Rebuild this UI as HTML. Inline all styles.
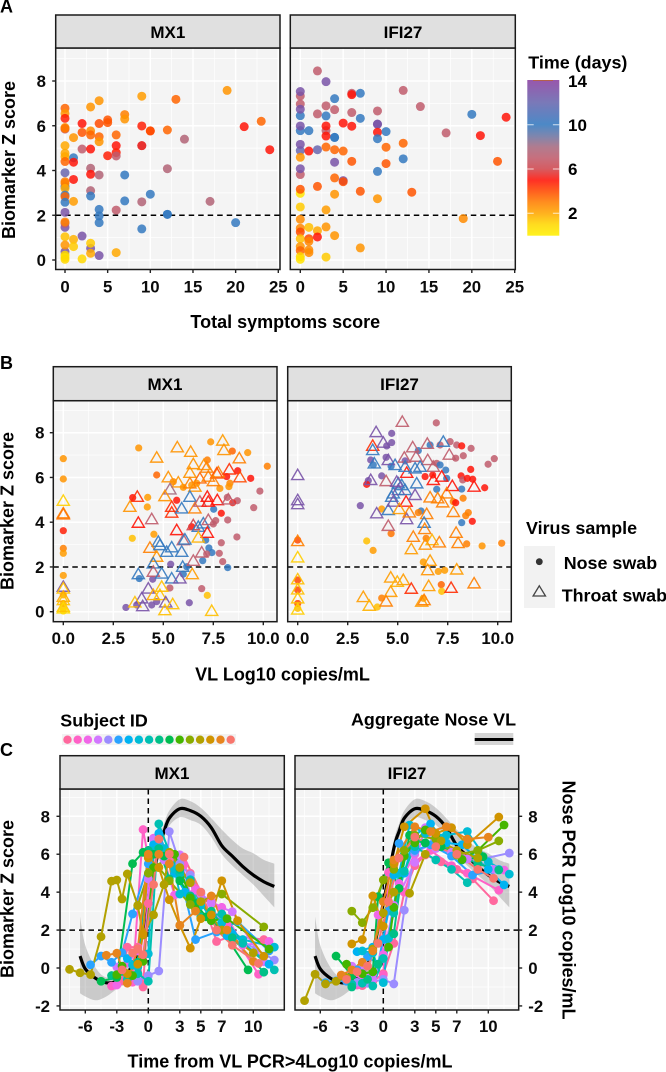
<!DOCTYPE html>
<html lang="en">
<head>
<meta charset="utf-8">
<title>Biomarker Z score charts</title>
<style>
html,body{margin:0;padding:0;background:#fff;}
svg{display:block;font-family:"Liberation Sans",Arial,sans-serif;font-weight:bold;}
text{fill:#000;}
.tick{font-size:16.8px;fill:#0b0b0b;}
.title{font-size:18px;}
.strip-label{font-size:17px;text-anchor:middle;}
.strip{fill:#e0e0e0;stroke:#1a1a1a;stroke-width:1.5;}
.legend-title{font-size:17.9px;}
.legend-label{font-size:17.9px;}
.legend-tick{font-size:17px;}
</style>
</head>
<body>
<svg id="chart" xmlns="http://www.w3.org/2000/svg" width="666" height="1072" viewBox="0 0 666 1072">
  <defs>
    <linearGradient id="time-gradient" x1="0" y1="1" x2="0" y2="0"></linearGradient>
  </defs>
  <g id="plot-layer"></g>

  <text x="0" y="12.5" font-size="18">A</text>
  <text x="0" y="369" font-size="18">B</text>
  <text x="0" y="756" font-size="18">C</text>

  <rect class="strip" x="55.7" y="15" width="224.3" height="33"/>
  <text class="strip-label" x="167.8" y="38">MX1</text>
  <rect class="strip" x="290.3" y="15" width="225" height="33"/>
  <text class="strip-label" x="403" y="38">IFI27</text>

  <rect class="strip" x="53.3" y="366.7" width="223.7" height="34"/>
  <text class="strip-label" x="165" y="390">MX1</text>
  <rect class="strip" x="287.7" y="366.7" width="223.6" height="34"/>
  <text class="strip-label" x="399.5" y="390">IFI27</text>

  <rect class="strip" x="60" y="755.7" width="224.3" height="33.3"/>
  <text class="strip-label" x="172" y="779">MX1</text>
  <rect class="strip" x="295" y="755.7" width="223.7" height="33.3"/>
  <text class="strip-label" x="407" y="779">IFI27</text>

  <text class="title" transform="translate(15 160) rotate(-90)" text-anchor="middle">Biomarker Z score</text>
  <text class="title" transform="translate(13.5 511) rotate(-90)" text-anchor="middle">Biomarker Z score</text>
  <text class="title" transform="translate(13.5 899) rotate(-90)" text-anchor="middle">Biomarker Z score</text>
  <text class="title" transform="translate(562.5 900) rotate(90)" text-anchor="middle">Nose PCR Log10 copies/mL</text>

  <text class="title" x="285.3" y="328" text-anchor="middle">Total symptoms score</text>
  <text class="title" x="282.5" y="680.5" text-anchor="middle">VL Log10 copies/mL</text>
  <text class="title" x="290" y="1067.5" text-anchor="middle">Time from VL PCR&gt;4Log10 copies/mL</text>

  <g>
    <text class="legend-title" x="528.3" y="68.5">Time (days)</text>
    <rect x="527.3" y="80" width="32" height="155.7" fill="url(#time-gradient)" opacity="0.88"/>
    <rect x="533" y="80" width="20" height="1" fill="#b4604c"/>
    <path d="M527.3 124.7h6.4M552.9 124.7h6.4M527.3 169h6.4M552.9 169h6.4M527.3 213.3h6.4M552.9 213.3h6.4" stroke="#fff" stroke-opacity=".75" stroke-width="1" fill="none"/>
    <text class="legend-tick" x="568" y="87">14</text>
    <text class="legend-tick" x="568" y="131">10</text>
    <text class="legend-tick" x="568" y="175">6</text>
    <text class="legend-tick" x="568" y="219">2</text>
  </g>

  <g>
    <text class="legend-title" x="526" y="534">Virus sample</text>
    <rect x="524" y="546" width="31" height="62" fill="#f2f2f2"/>
    <circle cx="539.3" cy="561.7" r="3.4" fill="#333"/>
    <path d="M539.3 585.8l6.2 10.2h-12.4z" fill="none" stroke="#444" stroke-width="1.3"/>
    <text class="legend-label" x="563.7" y="569">Nose swab</text>
    <text class="legend-label" x="561.7" y="601.5">Throat swab</text>
  </g>

  <g>
    <text class="legend-title" x="60.3" y="726.5">Subject ID</text>
    <rect x="62" y="734" width="174" height="11" fill="#f2f2f2"/>
    <g id="subject-key"></g>
  </g>

  <g>
    <text class="legend-title" x="351" y="725.5">Aggregate Nose VL</text>
    <rect x="474.7" y="733" width="38.6" height="12" fill="#d5d5d5"/>
    <rect x="474.7" y="738" width="38.6" height="3" fill="#000"/>
  </g>
</svg>

<script>
/* ---------- Panel A: [symptoms, Z score, time in days] ---------- */
const aMx1Points = [
[0,6.78,3.5],[0,6.55,2.5],[0,6.33,4.8],[0,5.85,7],[0,5.92,2.5],[0,5.88,3.2],[0,5.11,2],[0,4.77,2],[0,4.62,2],[0,4.4,3.5],[0,3.9,12],[0,3.28,10],[0,3.5,3],[0,3.43,3],[0,3.2,2],[0,2.9,10],[0,2.83,3.5],[0,2.58,10],[0,2.13,13],[0,1.46,13],[0,1.64,7],[0,1.7,3],[0,0.37,13],[0,1.04,1.5],[0,0.67,2.5],[0,0.22,1],[0,0.12,0.6],[0,0.03,1],
[1,5.47,2.5],[1,4.57,10],[1,4.37,5],[1,3.6,5],[1,2.62,2.3],[1,0.92,1.8],[1,0.6,1.3],
[2,6.1,5],[2,5.7,3.8],[2,4.96,7],[2,1.07,13],[2,0.05,1],
[3,6.84,2.5],[3,5.77,2.7],[3,5.59,3.5],[3,4.96,5],[3,4.1,7.5],[3,3.83,5],[3,3.1,7.5],[3,2.86,10],[3,0.52,13],[3,0.75,1.3],[3,0.3,2],
[4,7.12,2.5],[4,6.1,4],[4,5.51,3.5],[4,5.29,2.5],[4,3.8,7.5],[4,2.26,10],[4,1.97,10],[4,1.67,10],[4,0.2,13],
[5,6.26,3.8],[5,6.14,3.8],[5,4.66,4.8],
[6,5.59,3.5],[6,5.11,5],[6,4.8,4.8],[6,4.65,7],[6,2.23,7],[6,0.33,2],
[7,6.5,3],[7,6.3,2.5],[7,3.8,10],[7,2.64,10],
[9,7.32,2.3],[9,5.99,4.8],[9,5.11,5.5],[9,5.11,5.5],[9,2.6,7.5],[9,1.39,10],
[10,5.77,4],[10,5.77,4],[10,2.94,10],
[12,5.81,3.5],[12,4.08,7.5],[12,2.04,10],[12,2.04,10],
[13,7.18,3.5],[14,5.4,7.5],[17,2.62,7.5],[19,7.58,2.5],[20,1.67,10],[21,5.96,5],[23,6.2,3.5],[24,4.93,5]
];
const aIfi27Points = [
[0,7.33,7],[0,7.53,13],[0,6.97,7],[0,6.45,10],[0,6.74,13],[0,5.78,10],[0,5.99,13],[0,4.89,12],[0,5.17,13],[0,4.59,2.5],[0,3.82,7],[0,4.08,13],[0,2.98,0.5],[0,3.16,3.8],[0,2.37,1.3],[0,1.82,2.7],[0,1.42,2.8],[0,1.25,4],[0,0.95,1.5],[0,0.6,2.5],[0,0.42,3.5],[0,0.15,1],[0,0.03,0.6],
[1,5.78,10],[1,4.87,5],[1,1.46,1.5],[1,0.95,4],[1,0.83,2.8],[1,0.45,2.7],[1,0.33,2.7],
[2,8.45,7],[2,6.53,7],[2,4.93,12],[2,3.29,3.8],[2,1.31,2],[2,1.03,5],
[3,7.97,13],[3,6.89,7],[3,6.44,10],[3,5.78,7],[3,5.99,5],[3,5.54,5],[3,5.05,3.5],[3,2.24,2.3],[3,1.48,2.5],[3,0.13,1.3],
[4,7.21,10],[4,6.72,7],[4,5.48,10],[4,5.48,10],[4,4.93,3.5],[4,4.37,13],[4,3.67,3.5],[4,2.94,2.5],[4,1.09,2.5],
[5,6.12,5],[5,4.87,3.5],[5,3.55,13],[5,3.5,4],
[6,7.45,7],[6,7.39,5],[6,6.59,7],[6,5.98,5],[6,4.41,3.8],
[7,7.45,10],[7,6.33,10],[7,3.07,3.8],[7,0.54,2.5],
[9,6.66,7],[9,6.07,13],[9,6.07,13],[9,5.71,5],[9,5.42,10],[9,3.96,10],[9,2.74,2.5],
[10,5.74,10],[10,5.04,3.5],[10,4.31,3.8],
[12,7.58,7],[12,5.22,3.5],[12,4.52,10],
[13,3.03,3.8],[14,6.86,7],[17,5.68,7],[19,1.85,2.7],[20,6.51,10],[21,5.56,5],[23,4.41,3.8],[24,6.38,5]
];

/* ---------- Panel B: [VL log10, Z score, time in days] ---------- */
const bMx1Nose = [
[0,6.84,2.5],[0,5.93,2.5],[0,3.62,4.8],[0,2.83,3],[0,2.61,2.3],[0,1.62,2.3],[0,0.75,2],[0,0.37,1.8],[0,0.15,1.5],[0,0.03,1],
[3.77,7.32,2.5],[4.67,6.11,3.5],[4.22,5.11,2.3],[4.2,4.68,2.3],[3.45,3.28,1.5],[4.53,3.46,2.3],[3.47,5.1,5],
[7.37,7.59,2.5],[8.45,7.18,3.5],[9.22,7.11,2.5],[10.2,6.5,3],[7.2,6.78,3],[5.5,5.81,2.8],[6,5.56,2.5],[6.42,5.66,2.5],[6.67,5.74,2.5],[7.83,5.51,2.5],[8.33,5.74,2.8],[8.28,5.59,2.5],[8.17,6.04,5],[8.72,6.3,5],[9.37,5.96,5],[5.67,4.98,5],[8.2,5.11,7],[8.7,4.96,7],[8.47,4.87,5.5],[9.83,5.39,7],[9.52,4.65,7],[7.52,4.58,10],[7.9,4.4,5],[7.62,4.07,7],[8.22,4.1,7],[6.42,3.8,5],[7.5,3.92,7],[7.12,3.2,10],[7.9,3.08,7],[8.68,3.34,7],[7.28,2.85,10],[7.43,2.64,10],[7.8,2.61,7],[7.17,2.58,7],[6.97,2.28,10],[7.97,2.24,7],[8.22,1.97,10],[5.37,2.12,13],[6,1.68,10],[6.17,2.01,10],[3.8,1.48,10],[4.47,1.45,13],[5.33,1.06,7],[6.92,1.03,7],[7.2,0.73,1.5],[6.3,0.4,13],[3.13,0.19,13],[4.42,0.3,13],[4.67,0.45,13],[3.67,0.3,13]
];
const bMx1Throat = [
[0,4.96,1.2],[0,4.4,3],[0,4.35,3.2],[0,1.12,13],[0,1.04,1.5],[0,0.67,2],[0,0.52,1.5],[0,0.22,1.5],[0,0.15,1],
[5.7,7.35,2.5],[4.67,6.89,2.5],[7.97,7.65,2.3],[8.03,7.23,2.5],[6.37,7.15,2.5],[6.5,6.6,2.5],[7.03,6.56,2.5],[8.8,6.86,3],[5.25,6.01,2.5],[5.75,5.78,2.5],[6.33,6.21,2.5],[7.17,6.44,3],[7.75,6.23,3],[8.3,6.36,4.5],[8.83,6.01,4],[7.67,6.18,4],[6.83,5.96,3.5],[7.25,6.04,3],[7.5,5.84,3],[6.33,5.74,3],[6.58,5.59,2.5],[5.33,5.47,8],[5.08,5.17,2.5],[3.7,5.14,4.5],[3.33,4.69,2.5],[4.42,4.14,7],[3.75,3.98,5],[5.42,4.69,4.5],[5.42,4.43,4.5],[5.92,4.62,10],[6.33,5.14,10],[6.58,4.62,3],[6.83,4.92,7],[7.2,5.14,5],[7.25,4.92,5],[7.7,4.99,5],[8.25,5.02,7],[5.67,3.65,5],[6.5,3.87,6],[7,3.95,10],[7.25,4.1,7],[6.75,3.8,10],[6,3.2,7],[6.08,3.23,10],[7.2,3.53,5],[6.75,3.32,1.8],[4.75,3.13,10],[4.33,2.86,3],[4.83,2.98,10],[5.42,2.88,10],[5.92,2.68,10],[4.67,2.46,2.5],[5.17,2.68,10],[6.5,2.28,7],[6.92,2.65,7],[5.97,2.01,10],[6.45,1.68,2.3],[3.75,1.68,10],[4.5,2.16,10],[4.5,1.79,7],[4.92,1.71,10],[5.42,1.49,10],[5.83,1.49,13],[4.25,1.04,13],[4.92,1.12,1.5],[4.5,0.75,2],[4.83,0.75,1.5],[3.92,0.6,13],[3.58,0.42,1.5],[3.97,0.25,13],[5.12,0.42,13],[5.47,0.34,1.5],[5.08,0.07,1.5],[7.42,0.04,1.5]
];
const bIfi27Nose = [
[0,3.2,4],[0,1.42,4],[0,0.97,4],[0,0.37,4],[0,0.15,1.5],
[6.93,8.44,7],[4.7,7.97,13],[4.7,7.56,13],[4.45,7.41,13],[3.65,6.78,13],[4.42,6.9,13],[3.78,6.56,10],[4.67,6.5,10],[5.37,6.74,13],[4.2,6.07,13],[3.53,5.86,13],[3.45,5.69,5],[3.13,4.74,13],[4.2,4.59,2.3],[6.03,7.2,10],[6.62,7.45,10],[7.12,7.45,7],[7.62,7.6,7],[7.95,7.45,7],[8.2,7.41,5],[8.67,7.3,7],[7.9,6.86,7],[8.28,6.97,7],[9.83,6.84,7],[9.52,6.59,7],[6.95,6.63,7],[7.12,6.56,10],[7.4,6.33,10],[7.45,5.96,10],[6.37,6.04,5],[6.75,6.11,5],[8.65,6.36,5],[8.17,6.07,5],[8.25,5.89,7],[8.48,5.96,5],[8.75,5.92,5],[9.35,5.54,5],[8.2,5.48,10],[6.95,5.47,10],[7.78,4.92,3],[7.9,4.87,5],[8.27,5.07,3],[6.17,4.5,10],[6.03,4.43,3],[8.53,4.43,3],[8.4,4.29,3],[8.73,4.04,5],[8.2,3.98,10],[4.67,3.49,3.2],[6.42,3.28,3],[8.45,3.03,3],[9.22,2.94,2.5],[10.2,3.06,3],[3.45,3.16,1.5],[3.77,2.74,2.3],[6.28,2.22,2.3],[7.03,1.8,2.3],[7.35,1.85,2.3],[7.18,1.21,3.5],[7.2,0.91,1.5],[4.2,0.61,3],[3.98,0.21,1.5],[6.28,0.6,2.3]
];
const bIfi27Throat = [
[0,6.11,13],[0,4.99,13],[0,4.81,13],[0,3.16,3],[0,2.43,1.2],[0,1.45,1.5],[0,1,1.5],[0,0.6,1.5],[0,0.1,1.2],
[5.23,8.49,7],[3.92,8.03,13],[3.75,7.42,4.5],[3.75,7.23,10],[3.83,6.63,10],[4.28,7.56,13],[4.53,6.78,13],[4.87,6.56,10],[5.33,6.89,7],[5.75,7.35,7],[5.92,6.93,7],[6.5,6.78,7],[6.48,7.51,7],[7.28,7.6,10],[7.58,7.02,7],[6.78,6.48,7],[5.45,6.21,5],[5.37,6.48,10],[5.87,6.41,10],[6.12,6.48,10],[3.65,5.89,13],[4.42,5.84,7],[3.95,4.4,13],[4.53,4.55,10],[4.53,3.84,7],[5.45,4.14,13],[5.03,5.74,10],[5.2,5.66,10],[4.95,5.81,13],[4.78,5.29,10],[5.03,5.44,13],[4.7,5.14,10],[4.78,4.92,13],[5.37,5.44,10],[5.42,4.92,5],[5.87,5.22,13],[5.95,5.74,10],[6.78,5.89,5],[7.2,6.04,5],[7.73,5.62,5],[8.82,5.59,5],[6.62,5.11,3],[7,5.07,3],[7.45,5.29,3],[7.25,4.89,3],[7.78,4.46,3],[5.08,4.59,2.3],[5.58,4.44,3],[6.45,4.37,3],[6.32,3.98,10],[6.35,3.7,3],[5.78,3.35,3],[7.92,3.53,3],[6.72,3.2,1.8],[7.08,3.1,3],[8.02,3.07,3],[6.38,3,2.5],[5.68,2.8,2.3],[6.62,2.28,2.3],[6.5,1.86,2.5],[7.95,1.89,2.3],[4.65,1.53,2.3],[5.28,1.42,2.3],[4.98,1.34,1.8],[8.82,1.27,3],[5.68,1.03,4.5],[7.67,1.07,4.5],[6.55,1.15,2.3],[4.65,0.89,2.3],[3.28,0.66,2.3],[3.58,0.27,1.8],[4.42,0.46,3],[6.2,0.45,2.3],[6.32,0.52,3]
];

/* ---------- Panel C: one row per subject ---------- */
const subjectColors = ["#FF689E","#FF61C7","#F166E8","#D277FF","#9C8DFF","#29A3FF","#00B3F2","#00BCD6","#00C0B2","#00C087","#00BC51","#45B500","#89AC00","#B2A100","#D09400","#E7851E","#F8766D"];
const cMx1Times = [
[-2.5,-2,-1,-0.5,0,1,2,3,4,5,6.5,8,11],
[-3.5,-1.5,-0.5,0,1,2,3.4,4.5,6,7.5,10.5],
[-3,-2,-1,-0.5,0.5,1.5,2.5,4.5,6,7,9,11.5],
[-3,-1,0,0.5,1.5,3,4,5,6,8,11],
[-2,-1,0,1,2,3,4,5,7,9,12],
[-5.5,-4.5,-3.5,-2.5,-1.5,0,1,1.5,3,4.5,6.5,8.5,11.5],
[-2,-1,0,0.5,1,2.5,3.5,5,6,7.5,8,11.5],
[-1.5,-1,0,0.5,1.5,2.5,3,4,5,7,9,12],
[-2,-1,0,1,2,3,4,5,7,9,12],
[-3.5,-2,-1,0,1,2,3,4,6,8,11],
[-4.5,-3,-1.5,-0.5,0.5,1.5,3,4.5,5.5,7,9.5],
[-3,-2.5,-1.5,-0.5,0.5,2.5,4,4.5,6,7.5,11.5],
[-1,0,1,2,4,7,11],
[-7.5,-6.5,-5.5,-4.5,-3.5,-3,-2.5,-2,-1,-0.5,0.5,1.5,2,3,4,5,7,10],
[-2,-1,-0.5,0,1,2,3,4,5,6,7,8.5,11],
[-4,-3,-2,-1,0,1,2,3,4.5,6,7.5,10],
[-2.5,-1.5,-1,-0.5,0.5,1,2,3.4,5,6.5,8,10.5]
];
const cMx1Scores = [
[-0.67,1.1,1.1,-1,3.4,6.8,6,5.4,5,3.9,1.4,1.7,1.5],
[-0.95,-0.75,7.3,5.8,6.5,5.7,5.45,4.2,2.8,2.25,-0.33],
[-0.9,0.25,0.9,0.4,6.85,5.7,3.85,4.1,3.5,3.2,1.2,1.4],
[0.05,-0.68,4.7,6.8,5.7,5.97,3.85,3.9,3.4,2.97,0.33],
[-0.5,-0.7,-0.4,-0.16,7.2,5.5,4.9,4,2.4,1.4,0.42],
[0.17,0.63,0.3,0.8,2.85,5.5,6.5,6.25,5,1.5,1.9,2.45,0.9],
[0.5,0.2,6,6.5,7.1,5,4,3.5,2.5,1.7,1.8,0.2],
[0.15,0.05,0.75,6.2,6.3,5.2,3.9,4.66,3.3,2.4,1.5,1.1],
[-0.6,-0.3,-0.7,7.6,6.1,5,4.6,2.7,2.85,1.3,-0.1],
[-0.4,-0.33,0.3,6.2,6.3,4.7,5.2,3.8,3,1.6,-0.22],
[-0.7,-0.5,5.5,6.1,6,5.9,4.6,3.4,2.7,2,-0.1],
[-0.35,0.1,-0.4,0.35,5.3,6,3.7,3.1,2.5,2.6,1],
[3.3,5,5.3,4.6,3.35,3.9,2.17],
[-0.07,-0.25,-0.35,1.65,4.58,4.64,3.64,4.96,3.29,1.74,2.8,4.4,6.1,5.3,4.5,3.5,2,0.8],
[-0.3,0.2,1.8,5.8,5.3,3.6,2.25,1.05,2.6,2.8,4.6,2.5,0.62],
[0.67,0.78,-0.8,1,6,6,5.5,2.25,3,3.8,2,0.35],
[-0.1,0.8,1,0.7,4.4,6.8,6,5.85,4,2,1.2,0.24]
];
const cIfi27Times = [
[-2,-1,0,1,2,3,4,5.5,7,8.5,10.5],
[-2.5,-1.5,0,0.5,2,3,4.5,6.5,8,11],
[-3,-1.5,-1,-0.5,0,1.5,3,5,7,9,11.5],
[-3,-2,-1,0,1,3,4,5,6.5,8,10.5],
[-2.5,-1.5,0,1,2,3,5,7,9,12],
[-5.5,-4.5,-3.5,-2.5,-1.5,-0.5,0.5,1.5,3,4.5,6.5,8.5,11],
[-2.5,-1,0,1,2,3,4.5,6,7.5,10,11.5],
[-2,-1,0,0.5,1.5,2.5,4,6,8,10,12],
[-3,-2,-1,0,1,2,3,5,6.5,8],
[-3,-1.5,-0.5,1,2,3,4,5.5,7,9,11],
[-4.5,-3,-1,-0.5,0.5,1.5,2.5,4,5.5,7.5,9.5],
[-3.5,-2,-1,0.5,1,2,3,4,5,7.5,9,11.5],
[-3,-2,-1,0,1,2,3,5,7,9,11],
[-7.5,-6.5,-5.5,-4.5,-3.5,-1,0,1,2.5,4,5.5,7,9],
[-3,-2,-1,0,1,2,4,5,6.5,8,11],
[-4,-3,-2,-1,0,1,3,4.5,6,8,10],
[-3.5,-2.5,-1.5,-0.5,0.5,1.5,3,5,7,9,10.5]
];
const cIfi27Scores = [
[-0.93,-0.7,-0.3,1.3,4,5.4,5.96,5.6,5.2,4.7,3.55],
[-0.9,-0.8,-0.37,5.04,4,5.6,6.2,5.4,5,4.1],
[-0.3,-0.7,-0.3,2.8,0.7,4.46,6,6.8,6.2,5.5,5.17],
[0.1,0,-0.6,0.5,3.3,5.57,7.4,6.3,6.1,5.75,5.2],
[-0.75,-0.8,-0.6,-0.84,3.05,6.1,6.63,6,5.7,6.06],
[-0.77,-0.68,-0.7,-0.1,0.6,0.2,3,6.57,6.2,6.5,5.9,4.9,5.2],
[0.86,1.1,1.5,4.9,5,7,7.6,6.6,6.5,5.2,4.38],
[0.9,0.8,-0.77,1.56,5,7.54,7.1,7,7.2,5.6,4.95],
[-0.85,-0.8,-0.95,0.5,2.9,5.1,6.4,5.7,5.2,4.5],
[-1,-0.6,0.2,1.8,6,6.7,6.6,6.4,6,5.5,5.17],
[0.63,-0.4,-0.2,3.76,5.55,4.2,7,6.6,6.4,5.7,5.87],
[0.2,-0.3,-0.2,1.1,3.2,5.9,6.6,7.28,6.9,5.73,6.2,7.54],
[3,2.39,3.18,4.64,5.2,6.2,7,6.8,5.96,6.2,6.7],
[-1.72,-0.33,-0.84,-0.7,-0.5,1,2.9,4,3.94,6,6.7,6.2,5.8],
[1.27,1.5,3.8,2.2,5.5,7.45,8.4,7.1,7.4,6.5,7.96],
[-0.37,-0.1,0.3,0.9,3.5,5.7,7.45,7.2,7.45,6.8,6.9],
[-0.6,-0.2,0.1,1.3,3.5,5.8,6.9,6.4,6,5.2,4.73]
];

/* Aggregate nose viral-load smooth and its confidence band */
const vlTimes = [-6.5,-6,-5,-4,-3,-2,-1,0,1,1.5,2,3,4,5,6,7,8,9,10,11,12];
const vlMean  = [0.63,-0.05,-0.55,-0.78,-0.7,-0.3,0.9,3.4,6.3,7.2,7.9,8.4,8.3,8,7.4,6.45,5.9,5.35,4.9,4.55,4.3];
const vlUpper = [2.7,1.2,0,-0.5,-0.3,0.1,1.3,3.9,6.7,7.6,8.3,8.9,8.8,8.45,7.9,7.3,6.75,6.3,6.05,5.7,5.5];
const vlLower = [-1.33,-1.5,-1.7,-1.5,-1.1,-0.7,0.5,3,5.9,6.8,7.5,7.95,7.8,7.55,6.9,6,5.4,4.9,4.4,3.8,3.2];

/* Axis ticks */
const aXTicks = [0,5,10,15,20,25];
const bXTicks = [0,2.5,5,7.5,10];
const bXTickLabels = ["0.0","2.5","5.0","7.5","10.0"];
const cXTicks = [-6,-3,0,3,5,7,10];
const cXMinor = [-7.5,-4.5,-1.5,1.5,4,6,8.5,11.5];
const zTicks = [0,2,4,6,8];
const zTicksC = [-2,0,2,4,6,8];

/* Time colour scale */
const timeStops = [0,1,2,3,4,5,6,7,8,9,10,12,14];
const timeColors = ["#fff000","#ffd800","#ffa800","#ff7f00","#ff4a00","#ff1408","#d0464c","#bf5c6c","#a56a80","#6a76a4","#3479bf","#6866ae","#8a40a0"];

const NS = "http://www.w3.org/2000/svg";
const root = document.getElementById("plot-layer");

function hexRgb(h){return [1,3,5].map(i=>parseInt(h.substr(i,2),16));}
function timeColor(t){
  let i=0;
  while(i<timeStops.length-2 && t>timeStops[i+1]) i++;
  const f=Math.max(0,Math.min(1,(t-timeStops[i])/(timeStops[i+1]-timeStops[i])));
  const a=hexRgb(timeColors[i]), b=hexRgb(timeColors[i+1]);
  return "rgb("+a.map((v,k)=>Math.round(v+(b[k]-v)*f)).join(",")+")";
}
function svgEl(tag,parent,attrs){
  const el=document.createElementNS(NS,tag);
  for(const k in attrs) el.setAttribute(k,attrs[k]);
  parent.appendChild(el);
  return el;
}
function makeScale(d0,p0,d1,p1){return v=>p0+(v-d0)*(p1-p0)/(d1-d0);}

function drawBackground(g,b){
  const el=svgEl("rect",g,{x:b.l,y:b.t,width:b.r-b.l,height:b.b-b.t,fill:"#f4f4f4"});
  
  
}
function drawGridLine(g,x1,y1,x2,y2,w){
  const el=svgEl("line",g,{x1,y1,x2,y2,stroke:"#fff","stroke-width":w});
  
  
}
function drawTick(g,x1,y1,x2,y2){
  const el=svgEl("line",g,{x1,y1,x2,y2,stroke:"#222","stroke-width":1.4});
  
  
}
function drawTickLabel(g,x,y,anchor,label){
  const el=svgEl("text",g,{x,y,"text-anchor":anchor,"class":"tick"});
  
  
  el.textContent=label;
}
function drawDash(g,x1,y1,x2,y2){
  const el=svgEl("line",g,{x1,y1,x2,y2,stroke:"#000","stroke-width":1.5,"stroke-dasharray":"5.5 4"});
  
  
}
function drawBorder(g,b){
  const el=svgEl("rect",g,{x:b.l,y:b.t,width:b.r-b.l,height:b.b-b.t,fill:"none",stroke:"#1a1a1a","stroke-width":1.5});
  
  
}
function drawScatterPoint(g,cx,cy,r,t){
  const el=svgEl("circle",g,{cx,cy,r,fill:timeColor(t),"fill-opacity":0.85});
  
  
}
function drawNoseMarker(g,cx,cy,t){
  const el=svgEl("circle",g,{cx,cy,r:3.6,fill:timeColor(t),"fill-opacity":0.85});
  
  
}
function drawThroatMarker(g,cx,cy,t){
  const d="M"+cx+" "+(cy-5.8)+"L"+(cx+6.1)+" "+(cy+4.6)+"H"+(cx-6.1)+"Z";
  const el=svgEl("path",g,{d,fill:"none",stroke:timeColor(t),"stroke-opacity":0.9,"stroke-width":1.4});
  
  
}
function drawSubjectLine(g,pts,color){
  const el=svgEl("polyline",g,{points:pts.map(p=>p.join(",")).join(" "),fill:"none",stroke:color,"stroke-width":2});
  
  
}
function drawSubjectPoint(g,cx,cy,color){
  const el=svgEl("circle",g,{cx,cy,r:4.4,fill:color});
  
  
}
function drawRibbon(g,d){
  const el=svgEl("path",g,{d,fill:"#8c8c8c","fill-opacity":0.4});
  
  
}
function drawSmooth(g,d){
  const el=svgEl("path",g,{d,fill:"none",stroke:"#000","stroke-width":3.2,"stroke-linejoin":"round"});
  
  
}
function panelGroup(){
  const g=svgEl("g",root,{});
  
  
  return g;
}

/* Shared panel furniture */
function frame(g,b,sx,sy,xMajor,xMinor,yMajor,yMinor){
  drawBackground(g,b);
  xMinor.forEach(v=>drawGridLine(g,sx(v),b.t,sx(v),b.b,0.7));
  yMinor.forEach(v=>drawGridLine(g,b.l,sy(v),b.r,sy(v),0.7));
  xMajor.forEach(v=>drawGridLine(g,sx(v),b.t,sx(v),b.b,1.5));
  yMajor.forEach(v=>drawGridLine(g,b.l,sy(v),b.r,sy(v),1.5));
}
function xAxis(g,b,sx,ticks,labels,labelY){
  ticks.forEach((v,i)=>{
    drawTick(g,sx(v),b.b,sx(v),b.b+3.5);
    drawTickLabel(g,sx(v),labelY,"middle",labels?labels[i]:String(v));
  });
}
function yAxisLeft(g,b,sy,ticks,labelX){
  ticks.forEach(v=>{
    drawTick(g,b.l-3.5,sy(v),b.l,sy(v));
    drawTickLabel(g,labelX,sy(v)+6,"end",String(v));
  });
}
function yAxisRight(g,b,sy,ticks,labelX){
  ticks.forEach(v=>{
    drawTick(g,b.r,sy(v),b.r+3.5,sy(v));
    drawTickLabel(g,labelX,sy(v)+6,"start",String(v));
  });
}

/* ---------- Panel A ---------- */
const aMinorX=[2.5,7.5,12.5,17.5,22.5], zMinor=[1,3,5,7,9];
const aBoxes=[{l:55.7,r:280,t:48,b:269.5,x0:65,x25:278.3},{l:290.3,r:515.3,t:48,b:269.5,x0:300.3,x25:514.7}];
const aSets=[aMx1Points,aIfi27Points];
aBoxes.forEach((b,i)=>{
  const g=panelGroup();
  const sx=makeScale(0,b.x0,25,b.x25), sy=makeScale(0,260,8,81);
  frame(g,b,sx,sy,aXTicks,aMinorX,zTicks,zMinor);
  drawDash(g,b.l,sy(2),b.r,sy(2));
  aSets[i].forEach(p=>drawScatterPoint(g,sx(p[0]),sy(p[1]),4.5,p[2]));
  drawBorder(g,b);
  xAxis(g,b,sx,aXTicks,null,292.5);
  if(i===0) yAxisLeft(g,b,sy,zTicks,46);
});

/* ---------- Panel B ---------- */
const bMinorX=[1.25,3.75,6.25,8.75];
const bBoxes=[{l:53.3,r:277,t:400.7,b:621.7,x0:63.3},{l:287.7,r:511.3,t:400.7,b:621.7,x0:297.7}];
const bNose=[bMx1Nose,bIfi27Nose], bThroat=[bMx1Throat,bIfi27Throat];
bBoxes.forEach((b,i)=>{
  const g=panelGroup();
  const sx=makeScale(0,b.x0,10,b.x0+200), sy=makeScale(0,611.7,8,432.7);
  frame(g,b,sx,sy,bXTicks,bMinorX,zTicks,zMinor);
  drawDash(g,b.l,sy(2),b.r,sy(2));
  bNose[i].forEach(p=>drawNoseMarker(g,sx(p[0]),sy(p[1]),p[2]));
  bThroat[i].forEach(p=>drawThroatMarker(g,sx(p[0]),sy(p[1]),p[2]));
  drawBorder(g,b);
  xAxis(g,b,sx,bXTicks,bXTickLabels,644);
  if(i===0) yAxisLeft(g,b,sy,zTicks,44.5);
});

/* ---------- Panel C ---------- */
const cBoxes=[{l:60,r:284.3,t:789,b:1010,x0:148.3},{l:295,r:518.7,t:789,b:1010,x0:383.3}];
const cTimes=[cMx1Times,cIfi27Times], cScores=[cMx1Scores,cIfi27Scores];
const cMinorY=[-1,1,3,5,7,9];
function catmullPath(pts){
  let d="M"+pts[0][0]+" "+pts[0][1];
  for(let i=0;i<pts.length-1;i++){
    const p0=pts[Math.max(0,i-1)],p1=pts[i],p2=pts[i+1],p3=pts[Math.min(pts.length-1,i+2)];
    d+="C"+(p1[0]+(p2[0]-p0[0])/6)+" "+(p1[1]+(p2[1]-p0[1])/6)+" "+(p2[0]-(p3[0]-p1[0])/6)+" "+(p2[1]-(p3[1]-p1[1])/6)+" "+p2[0]+" "+p2[1];
  }
  return d;
}
cBoxes.forEach((b,i)=>{
  const g=panelGroup();
  const sx=makeScale(0,b.x0,10,b.x0+105), sy=makeScale(0,968,8,816.3);
  frame(g,b,sx,sy,cXTicks,cXMinor,zTicksC,cMinorY);
  const up=vlTimes.map((t,k)=>[sx(t),sy(vlUpper[k])]);
  const low=vlTimes.map((t,k)=>[sx(t),sy(vlLower[k])]).reverse();
  drawRibbon(g,catmullPath(up)+"L"+low[0][0]+" "+low[0][1]+catmullPath(low).replace(/^M[^C]*/,"")+"Z");
  drawSmooth(g,catmullPath(vlTimes.map((t,k)=>[sx(t),sy(vlMean[k])])));
  drawDash(g,b.l,sy(2),b.r,sy(2));
  drawDash(g,sx(0),b.t,sx(0),b.b);
  cTimes[i].forEach((ts,s)=>{
    const zs=cScores[i][s];
    const pts=ts.map((t,k)=>[sx(t),sy(zs[k])]).filter(p=>!isNaN(p[1]));
    drawSubjectLine(g,pts,subjectColors[s]);
  });
  cTimes[i].forEach((ts,s)=>{
    const zs=cScores[i][s];
    ts.forEach((t,k)=>{ if(zs[k]!==undefined) drawSubjectPoint(g,sx(t),sy(zs[k]),subjectColors[s]); });
  });
  drawBorder(g,b);
  xAxis(g,b,sx,cXTicks,null,1032);
  if(i===0) yAxisLeft(g,b,sy,zTicksC,50);
  else yAxisRight(g,b,sy,zTicksC,528.3);
});

/* Legends built from the same palettes */
const keyG=document.getElementById("subject-key");
subjectColors.forEach((c,i)=>{
  const el=svgEl("circle",keyG,{cx:67.5+i*10.2,cy:739.7,r:4.2,fill:c});
  
  
});
const grad=document.getElementById("time-gradient");
timeStops.forEach((t,i)=>{
  svgEl("stop",grad,{offset:(t/14*100)+"%","stop-color":timeColors[i]});
});
</script>
</body>
</html>
